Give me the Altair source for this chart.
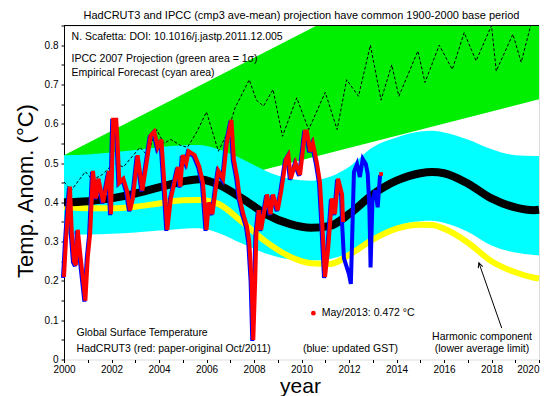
import altair as alt
import pandas as pd

FONT = "Liberation Sans"

# ---------------- data ----------------
# IPCC 2007 projection, 1-sigma wedge (green)
ipcc_years = [2000, 2020]
ipcc_low = [0.353, 0.662]
ipcc_high = [0.52, 1.14]

# Empirical forecast (cyan band), harmonic model (black) and lower harmonic (yellow)
fc_years = [2000, 2001, 2002, 2003, 2004, 2005, 2005.7, 2006.5, 2007.5, 2008.5, 2009.5,
            2010.4, 2011.2, 2012, 2013, 2014, 2015, 2015.5, 2016, 2017, 2018, 2019, 2019.8, 2020]
harmonic = [0.400, 0.403, 0.410, 0.422, 0.438, 0.453, 0.459, 0.445, 0.410, 0.370, 0.345,
            0.335, 0.340, 0.370, 0.420, 0.455, 0.474, 0.477, 0.474, 0.448, 0.410, 0.387, 0.380, 0.381]
harmonic_low = [0.388, 0.385, 0.385, 0.389, 0.397, 0.405, 0.406, 0.396, 0.350, 0.300, 0.262,
                0.245, 0.243, 0.266, 0.305, 0.333, 0.343, 0.342, 0.333, 0.298, 0.250, 0.222, 0.208, 0.206]
cyan_top = [0.520, 0.522, 0.527, 0.533, 0.540, 0.545, 0.546, 0.535, 0.510, 0.480, 0.460,
            0.455, 0.465, 0.490, 0.540, 0.565, 0.580, 0.582, 0.578, 0.560, 0.535, 0.520, 0.518, 0.518]
cyan_bot = [0.318, 0.318, 0.320, 0.323, 0.328, 0.333, 0.334, 0.322, 0.295, 0.270, 0.255,
            0.252, 0.256, 0.272, 0.310, 0.340, 0.352, 0.353, 0.348, 0.325, 0.290, 0.272, 0.266, 0.265]

# IPCC mean projection (dashed)
ipcc_mean_years = [2000.0, 2000.3, 2000.9, 2001.2, 2001.6, 2002.1, 2002.5, 2003.2, 2003.5, 2003.9,
                   2004.2, 2004.5, 2004.9, 2005.2, 2005.6, 2006.0, 2006.5, 2006.9, 2007.2, 2007.8,
                   2008.1, 2008.4, 2008.8, 2009.2, 2009.8, 2010.3, 2011.0, 2011.5, 2011.9, 2012.4,
                   2012.9, 2013.35, 2013.8, 2014.1, 2014.9, 2015.2, 2015.8, 2016.35, 2016.85, 2017.35,
                   2018.0, 2018.2, 2018.9, 2019.25, 2019.65, 2020.0]
ipcc_mean = [0.452, 0.430, 0.478, 0.457, 0.470, 0.500, 0.490, 0.540, 0.520, 0.585,
             0.550, 0.560, 0.545, 0.540, 0.580, 0.630, 0.530, 0.580, 0.640, 0.712,
             0.660, 0.645, 0.687, 0.568, 0.666, 0.585, 0.680, 0.585, 0.712, 0.670,
             0.800, 0.660, 0.750, 0.670, 0.785, 0.705, 0.800, 0.738, 0.832, 0.760,
             0.850, 0.734, 0.828, 0.756, 0.850, 0.900]

# HadCRUT3 (red, paper original up to Oct 2011)
had_years = [2000.00, 2000.08, 2000.17, 2000.25, 2000.33, 2000.42, 2000.50, 2000.58, 2000.70, 2000.90,
             2001.00, 2001.10, 2001.22, 2001.35, 2001.45, 2001.65, 2001.90, 2001.98, 2002.07, 2002.20,
             2002.25, 2002.33, 2002.50, 2002.65, 2002.78, 2002.90, 2003.10, 2003.30, 2003.50, 2003.65,
             2003.80, 2003.95, 2004.10, 2004.20, 2004.35, 2004.50, 2004.65, 2004.80, 2004.90, 2005.00,
             2005.15, 2005.25, 2005.50, 2005.70, 2005.85, 2006.00, 2006.10, 2006.25, 2006.40, 2006.50,
             2006.70, 2006.85, 2007.05, 2007.15, 2007.30, 2007.40, 2007.55, 2007.70, 2007.80, 2007.90,
             2007.97, 2008.05, 2008.10, 2008.20, 2008.30, 2008.55, 2008.70, 2008.80, 2009.00, 2009.15,
             2009.35, 2009.45, 2009.55, 2009.75, 2009.94, 2010.15, 2010.23, 2010.36, 2010.48, 2010.65,
             2010.78, 2010.86, 2010.99, 2011.12, 2011.28, 2011.41, 2011.54, 2011.71, 2011.75]
had_vals = [0.21, 0.30, 0.38, 0.44, 0.32, 0.25, 0.24, 0.33, 0.26, 0.15,
            0.26, 0.32, 0.48, 0.41, 0.46, 0.40, 0.48, 0.37, 0.61, 0.61,
            0.56, 0.45, 0.46, 0.43, 0.38, 0.41, 0.52, 0.43, 0.51, 0.57,
            0.58, 0.54, 0.56, 0.47, 0.33, 0.41, 0.45, 0.49, 0.44, 0.52,
            0.50, 0.53, 0.52, 0.49, 0.45, 0.33, 0.40, 0.37, 0.44, 0.48,
            0.46, 0.55, 0.61, 0.51, 0.46, 0.41, 0.37, 0.34, 0.30, 0.20,
            0.05, 0.20, 0.32, 0.38, 0.33, 0.42, 0.37, 0.42, 0.38, 0.43,
            0.51, 0.52, 0.46, 0.50, 0.47, 0.58, 0.58, 0.53, 0.55, 0.50,
            0.45, 0.365, 0.21, 0.28, 0.41, 0.37, 0.46, 0.42, 0.35]

# Updated GST (blue) after Oct 2011
gst_new_years = [2011.83, 2012.04, 2012.12, 2012.17, 2012.25, 2012.38, 2012.50, 2012.62,
                 2012.75, 2012.83, 2012.90, 2012.95, 2013.03, 2013.15, 2013.25, 2013.35]
gst_new_vals = [0.26, 0.22, 0.195, 0.30, 0.48, 0.50, 0.467, 0.513,
                0.50, 0.475, 0.39, 0.237, 0.407, 0.433, 0.39, 0.472]

last_point_year = [2013.35]
last_point_val = [0.472]

# ---------------- tables ----------------
ipcc_df = pd.DataFrame({"year": ipcc_years, "low": ipcc_low, "high": ipcc_high})
fc_df = pd.DataFrame({"year": fc_years, "harm": harmonic, "harm_low": harmonic_low,
                      "top": cyan_top, "bot": cyan_bot})
mean_df = pd.DataFrame({"year": ipcc_mean_years, "v": ipcc_mean})
had_df = pd.DataFrame({"year": had_years, "v": had_vals})
gst_df = pd.DataFrame({"year": had_years + gst_new_years, "v": had_vals + gst_new_vals})
last_df = pd.DataFrame({"year": last_point_year, "v": last_point_val})

xs = alt.Scale(domain=[2000, 2020], nice=False, zero=False)
ys = alt.Scale(domain=[0, 0.85], nice=False, zero=False)

x_axis = alt.Axis(
    values=list(range(2000, 2021)),
    labelExpr="datum.value % 2 == 0 ? '' + datum.value : ''",
    labelAlign=alt.ExprRef(expr="datum.value == 2020 ? 'right' : 'center'"),
    title="year", titleFontSize=21, titleFont=FONT, titleFontWeight="normal", titleColor="black",
    titleX=236, titleY=33, titleBaseline="alphabetic", titleAlign="center",
    domain=False, grid=False, tickSize=3, tickColor="black", labelFlush=False,
    labelFont=FONT, labelFontSize=10, labelColor="black", labelPadding=2,
)
y_axis = alt.Axis(
    values=[round(i * 0.05, 2) for i in range(18)],
    labelExpr="round(datum.value * 20) % 2 == 0 ? (datum.value == 0 ? '0' : format(datum.value, '.1f')) : ''",
    title="Temp. Anom. (°C)", titleFontSize=22, titleFont=FONT, titleFontWeight="normal", titleColor="black",
    titleX=-32, titleY=165, titleAngle=270, titleBaseline="alphabetic", titleAlign="center",
    domain=True, domainColor="black", grid=False, tickSize=3, tickColor="black", labelFlush=False,
    labelFont=FONT, labelFontSize=10, labelColor="black", labelPadding=3,
)


def X():
    return alt.X("year:Q", scale=xs, axis=x_axis)


def Y(field):
    return alt.Y(field, scale=ys, axis=y_axis)


green = alt.Chart(ipcc_df).mark_area(color="#00ee00", opacity=1, clip=True).encode(
    x=X(), y=Y("low:Q"), y2="high:Q")

cyan = alt.Chart(fc_df).mark_area(color="#00ffff", opacity=1, interpolate="monotone").encode(
    x=X(), y=Y("bot:Q"), y2="top:Q")

yellow = alt.Chart(fc_df).mark_line(color="#ffff00", strokeWidth=6, interpolate="monotone").encode(
    x=X(), y=Y("harm_low:Q"))

black = alt.Chart(fc_df).mark_line(color="black", strokeWidth=8, interpolate="monotone").encode(
    x=X(), y=Y("harm:Q"))

dashed = alt.Chart(mean_df).mark_line(color="black", strokeWidth=1, strokeDash=[3, 2],
                                      clip=True).encode(
    x=X(), y=Y("v:Q"))

blue = alt.Chart(gst_df).mark_line(color="#0000ff", strokeWidth=4, xOffset=-1, yOffset=1).encode(
    x=X(), y=Y("v:Q"))

red = alt.Chart(had_df).mark_line(color="#ff0000", strokeWidth=4).encode(
    x=X(), y=Y("v:Q"))

last = alt.Chart(last_df).mark_point(shape="square", filled=True, color="#ff0000", size=14, opacity=1).encode(
    x=X(), y=Y("v:Q"))

# frame top line
frame_df = pd.DataFrame({"year": [2000], "year2": [2020], "v": [0.85]})
top_line = alt.Chart(frame_df).mark_rule(color="black", strokeWidth=1).encode(
    x=X(), x2="year2:Q", y=Y("v:Q"))

# annotations
left_text_df = pd.DataFrame({
    "year": [2000.32, 2000.32, 2000.32, 2000.53, 2000.53, 2010.06, 2010.85],
    "v": [0.822, 0.765, 0.730, 0.068, 0.027, 0.027, 0.118],
    "t": ["N. Scafetta: DOI: 10.1016/j.jastp.2011.12.005",
          "IPCC 2007 Projection (green area = 1σ)",
          "Empirical Forecast (cyan area)",
          "Global Surface Temperature",
          "HadCRUT3 (red: paper-original Oct/2011)",
          "(blue: updated GST)",
          "May/2013: 0.472 °C"],
})
left_text = alt.Chart(left_text_df).mark_text(align="left", baseline="middle", font=FONT,
                                              fontSize=10.5, color="black").encode(
    x=X(), y=Y("v:Q"), text="t:N")

center_text_df = pd.DataFrame({
    "year": [2017.6, 2017.6],
    "v": [0.056, 0.027],
    "t": ["Harmonic component", "(lower average limit)"],
})
center_text = alt.Chart(center_text_df).mark_text(align="center", baseline="middle", font=FONT,
                                                  fontSize=10.5, color="black").encode(
    x=X(), y=Y("v:Q"), text="t:N")

legend_dot_df = pd.DataFrame({"year": [2010.5], "v": [0.118]})
legend_dot = alt.Chart(legend_dot_df).mark_point(shape="circle", filled=True, color="#ff0000",
                                                 size=22, opacity=1).encode(
    x=X(), y=Y("v:Q"))

arrow_df = pd.DataFrame({"year": [2018.43], "year2": [2017.47], "v": [0.080], "v2": [0.246]})
arrow_line = alt.Chart(arrow_df).mark_rule(color="black", strokeWidth=1).encode(
    x=X(), x2="year2:Q", y=Y("v:Q"), y2="v2:Q")
arrow_head_df = pd.DataFrame({"year": [2017.47], "v": [0.246]})
arrow_head = alt.Chart(arrow_head_df).mark_point(
    shape="M -0.5 1 L 0 0 L 0.5 1", filled=False, stroke="black", strokeWidth=1,
    size=90, angle=341, opacity=1).encode(
    x=X(), y=Y("v:Q"))

chart = alt.layer(
    green, cyan, yellow, black, dashed, blue, red, last, top_line,
    left_text, center_text, legend_dot, arrow_line, arrow_head
).properties(
    width=475, height=334,
    padding={"left": 56, "top": 17.5, "right": 4, "bottom": 36},
    autosize=alt.AutoSizeParams(type="none"),
    title=alt.TitleParams(
        "HadCRUT3 and IPCC (cmp3 ave-mean) projection have common 1900-2000 base period",
        font=FONT, fontSize=11, fontWeight="normal", color="black", offset=4, anchor="middle"),
).configure_view(stroke=None).configure(background="white")

chart.save("out.html", embed_options={"renderer": "svg", "actions": False})
